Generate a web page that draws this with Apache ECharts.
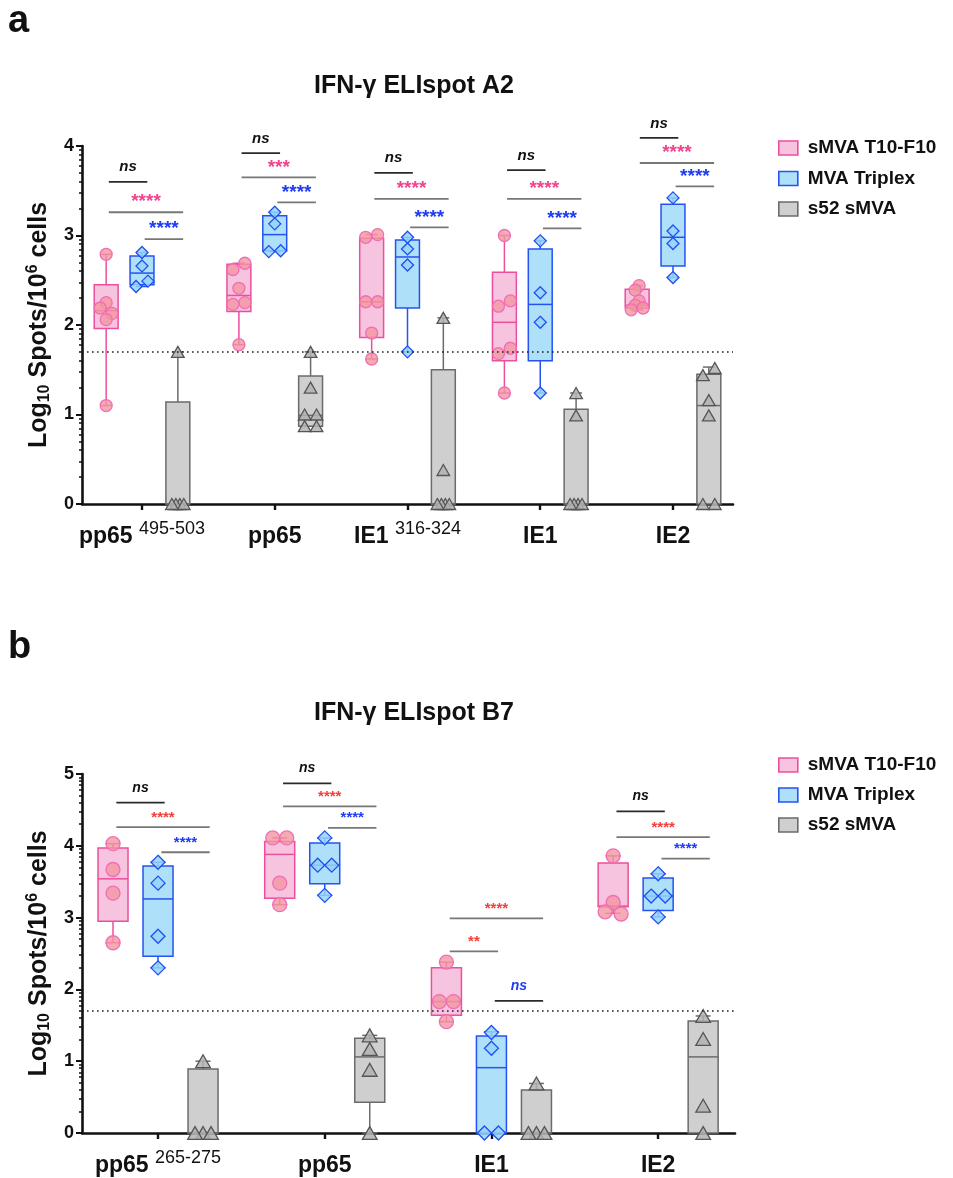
<!DOCTYPE html>
<html><head><meta charset="utf-8">
<script src="https://cdn.jsdelivr.net/npm/echarts@6/dist/echarts.min.js"></script>
<style>html,body{margin:0;padding:0;background:#fff}#c{width:953px;height:1178px}</style>
</head><body><div id="c"></div>
<script>
const FONT = '"Liberation Sans", Arial, Helvetica, sans-serif';
const groupNames = ['sMVA T10-F10', 'MVA Triplex', 's52 sMVA'];
const THRESHOLD = 1.7;

// ---------- Panel a ----------
const titleA = 'IFN-γ ELIspot A2';
const catsA = ['pp65', 'pp65', 'IE1', 'IE1', 'IE2'];
const supA = ['495-503', '', '316-324', '', ''];
const yTicksA = [0, 1, 2, 3, 4];
// box stats: [min, Q1, median, Q3, max]
const boxA_pink = [[1.10, 1.96, 2.16, 2.45, 2.79], [1.78, 2.15, 2.33, 2.68, 2.69], [1.62, 1.86, 2.26, 2.97, 3.01], [1.24, 1.60, 2.03, 2.59, 3.00], [2.17, 2.19, 2.22, 2.40, 2.44]];
const boxA_blue = [[2.43, 2.45, 2.58, 2.77, 2.81], [2.82, 2.83, 3.01, 3.22, 3.26], [1.70, 2.19, 2.76, 2.95, 2.98], [1.24, 1.60, 2.23, 2.85, 2.94], [2.53, 2.66, 2.98, 3.35, 3.42]];
const boxA_gray = [[0, 0, 0, 1.14, 1.70], [0.87, 0.87, 0.99, 1.43, 1.70], [0, 0, 0, 1.50, 2.08], [0, 0, 0, 1.06, 1.24], [0, 0, 1.10, 1.45, 1.53]];
const ptsA_pink = [[2.79, 2.25, 2.19, 2.13, 2.06, 1.10], [2.69, 2.62, 2.41, 2.25, 2.23, 1.78], [3.01, 2.98, 2.26, 2.26, 1.91, 1.62], [3.00, 2.27, 2.21, 1.74, 1.68, 1.24], [2.44, 2.39, 2.27, 2.22, 2.19, 2.17]];
const ptsA_blue = [[2.81, 2.66, 2.49, 2.43], [3.26, 3.13, 2.83, 2.82], [2.98, 2.85, 2.67, 1.70], [2.94, 2.36, 2.03, 1.24], [3.42, 3.05, 2.91, 2.53]];
const ptsA_gray = [[1.70, 0, 0, 0, 0], [1.70, 1.30, 1.00, 1.00, 0.87, 0.87], [2.08, 0.38, 0, 0, 0, 0], [1.24, 0.99, 0, 0, 0, 0], [1.52, 1.44, 1.16, 0.99, 0, 0]];
// significance: [category, fromGroup, toGroup, lineValue, label, colorKey]
const annA = [
  [0, 0, 1, 3.60, 'ns', 'k'], [0, 0, 2, 3.26, '****', 'p'], [0, 1, 2, 2.96, '****', 'b'],
  [1, 0, 1, 3.92, 'ns', 'k'], [1, 0, 2, 3.65, '***', 'p'], [1, 1, 2, 3.37, '****', 'b'],
  [2, 0, 1, 3.70, 'ns', 'k'], [2, 0, 2, 3.41, '****', 'p'], [2, 1, 2, 3.09, '****', 'b'],
  [3, 0, 1, 3.73, 'ns', 'k'], [3, 0, 2, 3.41, '****', 'p'], [3, 1, 2, 3.08, '****', 'b'],
  [4, 0, 1, 4.09, 'ns', 'k'], [4, 0, 2, 3.81, '****', 'p'], [4, 1, 2, 3.55, '****', 'b']
];

// ---------- Panel b ----------
const titleB = 'IFN-γ ELIspot B7';
const catsB = ['pp65', 'pp65', 'IE1', 'IE2'];
const supB = ['265-275', '', '', ''];
const yTicksB = [0, 1, 2, 3, 4, 5];
const boxB_pink = [[2.65, 2.95, 3.54, 3.97, 4.03], [3.18, 3.27, 3.88, 4.06, 4.11], [1.55, 1.64, 1.83, 2.30, 2.38], [3.06, 3.15, 3.16, 3.76, 3.86]];
const boxB_blue = [[2.30, 2.46, 3.26, 3.72, 3.77], [3.31, 3.47, 3.73, 4.04, 4.11], [0, 0, 0.91, 1.35, 1.41], [3.01, 3.10, 3.30, 3.55, 3.61]];
const boxB_gray = [[0, 0, 0, 0.89, 1.00], [0, 0.43, 1.06, 1.32, 1.36], [0, 0, 0, 0.60, 0.69], [0, 0, 1.06, 1.56, 1.63]];
const ptsB_pink = [[4.03, 3.67, 3.34, 2.65], [4.11, 4.11, 3.48, 3.18], [2.38, 1.83, 1.83, 1.55], [3.86, 3.21, 3.08, 3.05]];
const ptsB_blue = [[3.77, 3.48, 2.74, 2.30], [4.11, 3.73, 3.73, 3.31], [1.40, 1.18, 0, 0], [3.61, 3.30, 3.30, 3.01]];
const ptsB_gray = [[1.00, 0, 0, 0], [1.36, 1.17, 0.88, 0], [0.69, 0, 0, 0], [1.63, 1.31, 0.38, 0]];
const annB = [
  [0, 0, 1, 4.60, 'ns', 'k'], [0, 0, 2, 4.26, '****', 'r'], [0, 1, 2, 3.91, '****', 'b'],
  [1, 0, 1, 4.87, 'ns', 'k'], [1, 0, 2, 4.55, '****', 'r'], [1, 1, 2, 4.25, '****', 'b'],
  [2, 0, 2, 2.99, '****', 'r'], [2, 0, 1, 2.53, '**', 'r'], [2, 1, 2, 1.84, 'ns', 'bi'],
  [3, 0, 1, 4.48, 'ns', 'k'], [3, 0, 2, 4.12, '****', 'r'], [3, 1, 2, 3.82, '****', 'b']
];

// ---------- styles ----------
const OFF = [-0.27, 0, 0.27];
const BOX_HALF = 0.09;
const STY = [
  { boxFill: '#f7c4df', stroke: '#ec4f9d', ptFill: 'rgba(241,150,160,0.8)', ptStroke: 'rgba(240,105,180,0.95)', sym: 'circle' },
  { boxFill: '#aee0fa', stroke: '#2453f2', ptFill: 'rgba(150,212,248,0.85)', ptStroke: '#1f4ff2', sym: 'diamond' },
  { boxFill: '#cfcfcf', stroke: '#6b6b6b', ptFill: 'rgba(178,178,178,0.85)', ptStroke: '#555555', sym: 'triangle' }
];
const ANN_COL = { k: '#111111', p: '#f0458e', b: '#1f3cf5', r: '#f2403c', bi: '#1f3cf5' };

function swarm(values, Yf, size, boxW) {
  const items = values.map(v => ({ v: v, y: Yf(v) })).sort((a, b) => a.y - b.y);
  const thr = size * 0.9;
  const clusters = [];
  let cur = [];
  items.forEach(it => {
    if (cur.length && it.y - cur[cur.length - 1].y >= thr) { clusters.push(cur); cur = []; }
    cur.push(it);
  });
  if (cur.length) clusters.push(cur);
  const order = [0, -1, 1, -2, 2, -3, 3, -4, 4];
  clusters.forEach(cl => {
    const placed = [];
    cl.forEach(it => {
      for (const s of order) {
        if (!placed.some(p => p.slot === s && Math.abs(p.y - it.y) < thr)) { it.slot = s; break; }
      }
      placed.push(it);
    });
    const slots = cl.map(it => it.slot);
    const mn = Math.min.apply(null, slots), mx = Math.max.apply(null, slots);
    const mid = (mn + mx) / 2, k = mx - mn;
    const step = k > 0 ? Math.min(size, (boxW - size) / k) : 0;
    cl.forEach(it => { it.dx = (it.slot - mid) * step; });
  });
  return items;
}

function symbolShape(sym, x, y, size, st) {
  const r = size / 2;
  const style = { fill: st.ptFill, stroke: st.ptStroke, lineWidth: 1.3 };
  if (sym === 'circle') return { type: 'circle', shape: { cx: x, cy: y, r: r }, style: style };
  if (sym === 'diamond') return { type: 'polygon', shape: { points: [[x, y - r], [x + r, y], [x, y + r], [x - r, y]] }, style: style };
  const h = size * 0.92;
  return { type: 'polygon', shape: { points: [[x, y - h / 2], [x + r * 1.05, y + h / 2], [x - r * 1.05, y + h / 2]] }, style: style };
}

function groupRender(stats, pts, gi, size) {
  const st = STY[gi];
  return function (params, api) {
    const i = params.dataIndex;
    const xc = api.value(0);
    const s = stats[i];
    const cx = api.coord([xc, 0])[0];
    const xl = api.coord([xc - BOX_HALF, 0])[0];
    const xr = api.coord([xc + BOX_HALF, 0])[0];
    const Y = v => api.coord([xc, v])[1];
    const bw = xr - xl, cap = bw / 4;
    const ln = (x1, y1, x2, y2) => ({ type: 'line', shape: { x1: x1, y1: y1, x2: x2, y2: y2 }, style: { stroke: st.stroke, lineWidth: 1.5 } });
    const yMin = Y(s[0]), yQ1 = Y(s[1]), yMed = Y(s[2]), yQ3 = Y(s[3]), yMax = Y(s[4]);
    const ch = [];
    ch.push({ type: 'rect', shape: { x: xl, y: yQ3, width: bw, height: Math.max(yQ1 - yQ3, 0.5) }, style: { fill: st.boxFill, stroke: st.stroke, lineWidth: 1.5 } });
    if (yMax < yQ3 - 0.5) { ch.push(ln(cx, yQ3, cx, yMax)); }
    ch.push(ln(cx - cap, yMax, cx + cap, yMax));
    if (yMin > yQ1 + 0.5) { ch.push(ln(cx, yQ1, cx, yMin)); ch.push(ln(cx - cap, yMin, cx + cap, yMin)); }
    ch.push(ln(xl, yMed, xr, yMed));
    swarm(pts[i], Y, size, bw).forEach(it => ch.push(symbolShape(st.sym, cx + it.dx, it.y, size, st)));
    return { type: 'group', children: ch };
  };
}

function annRender(ann, fs) {
  return function (params, api) {
    const a = ann[params.dataIndex];
    const p1 = api.coord([api.value(0) + 0.02, api.value(2)]);
    const p2 = api.coord([api.value(1) + 0.04, api.value(2)]);
    const isNs = a[4] === 'ns';
    const col = ANN_COL[a[5]];
    const lineCol = isNs ? '#2a2a2a' : '#777777';
    return {
      type: 'group', children: [
        { type: 'line', shape: { x1: p1[0], y1: p1[1], x2: p2[0], y2: p2[1] }, style: { stroke: lineCol, lineWidth: 1.8 } },
        { type: 'text', x: (p1[0] + p2[0]) / 2, y: p1[1] - (isNs ? fs.nsGap : fs.starGap),
          style: { text: a[4], fill: col, fontFamily: FONT, fontSize: isNs ? fs.ns : fs.star, fontWeight: 'bold', fontStyle: isNs ? 'italic' : 'normal', align: 'center', verticalAlign: 'middle' } }
      ]
    };
  };
}

function minorLog(n) {
  const out = [];
  for (let k = 0; k < n; k++) for (let m = 2; m <= 9; m++) out.push(k + Math.log10(m));
  return out;
}

const yName = '{m|Log}{sub|10}{m| Spots/10}{sup|6}{m| cells}';
const yNameStyle = {
  color: '#111', fontFamily: FONT,
  rich: {
    m: { fontSize: 25, fontWeight: 'bold', fontFamily: FONT, color: '#111', lineHeight: 28, verticalAlign: 'middle' },
    sub: { fontSize: 16, fontWeight: 'bold', fontFamily: FONT, color: '#111', lineHeight: 16, verticalAlign: 'bottom' },
    sup: { fontSize: 16, fontWeight: 'bold', fontFamily: FONT, color: '#111', lineHeight: 16, verticalAlign: 'top' }
  }
};
const xRich = {
  m: { fontSize: 23, fontWeight: 'bold', fontFamily: FONT, color: '#111', lineHeight: 34, verticalAlign: 'middle' },
  s: { fontSize: 18, fontWeight: 'normal', fontFamily: FONT, color: '#111', lineHeight: 18, verticalAlign: 'top' }
};
const labelFmt = (cats, sups) => v => {
  const i = Math.round(v);
  return sups[i] ? '{m|' + cats[i] + ' }{s|' + sups[i] + '}' : '{m|' + cats[i] + '}';
};
const idx = arr => arr.map((_, i) => i);

function xAxisDef(grid, cats, sups, min, max) {
  return {
    gridIndex: grid, type: 'value', min: min, max: max, position: 'bottom',
    splitLine: { show: false },
    axisLine: { show: true, onZero: false, lineStyle: { color: '#111', width: 2.6 } },
    axisTick: { show: true, customValues: idx(cats), length: 6, lineStyle: { color: '#111', width: 2.4 } },
    axisLabel: { show: true, customValues: idx(cats), formatter: labelFmt(cats, sups), margin: 16, rich: xRich }
  };
}
function yAxisDef(grid, ticks) {
  const max = ticks[ticks.length - 1];
  return {
    gridIndex: grid, type: 'value', min: 0, max: max, interval: 1, position: 'left', offset: 0,
    splitLine: { show: false },
    axisLine: { show: true, onZero: false, lineStyle: { color: '#111', width: 2.6 } },
    axisTick: { show: true, length: 6, lineStyle: { color: '#111', width: 2 } },
    axisLabel: { show: true, customValues: ticks, margin: 8, fontSize: 18, fontWeight: 'bold', color: '#111', fontFamily: FONT },
    name: yName, nameLocation: 'middle', nameRotate: 90, nameGap: 26, nameTextStyle: yNameStyle
  };
}
function yMinorDef(grid, ticks) {
  const max = ticks[ticks.length - 1];
  return {
    gridIndex: grid, type: 'value', min: 0, max: max, interval: 1, position: 'left', offset: 0,
    splitLine: { show: false }, axisLine: { show: false, onZero: false }, axisLabel: { show: false },
    axisTick: { show: true, customValues: minorLog(max), length: 3, lineStyle: { color: '#111', width: 1.5 } }
  };
}

const legendData = groupNames.map((n, gi) => ({ name: n, itemStyle: { color: STY[gi].boxFill, borderColor: STY[gi].stroke, borderWidth: 1.6 } }));
const legendBase = {
  orient: 'vertical', icon: 'rect', itemWidth: 19, itemHeight: 14, selectedMode: false, padding: 0,
  textStyle: { fontSize: 19, fontWeight: 'bold', color: '#111', fontFamily: FONT, lineHeight: 22, padding: [0, 0, 0, 5] },
  data: legendData
};

function panelSeries(cats, boxes, pts, ann, xi, yi, size, fs) {
  const out = [];
  boxes.forEach((stats, gi) => {
    const s = {
      type: 'custom', name: groupNames[gi], xAxisIndex: xi, yAxisIndex: yi,
      itemStyle: { color: STY[gi].boxFill, borderColor: STY[gi].stroke },
      renderItem: groupRender(stats, pts[gi], gi, size),
      encode: { x: 0, y: [1, 2, 3, 4, 5] },
      data: stats.map((b, i) => [i + OFF[gi]].concat(b)),
      clip: false, z: 2
    };
    if (gi === 2) {
      s.markLine = { silent: true, symbol: ['none', 'none'], label: { show: false }, z: 5,
        lineStyle: { type: [1.6, 3.4], color: '#222', width: 1.6 }, data: [{ yAxis: THRESHOLD }] };
    }
    out.push(s);
  });
  out.push({
    type: 'custom', name: 'sig', xAxisIndex: xi, yAxisIndex: yi, clip: false, z: 3, silent: true,
    renderItem: annRender(ann, fs),
    encode: { x: [0, 1], y: 2 },
    data: ann.map(a => [a[0] + OFF[a[1]], a[0] + OFF[a[2]], a[3]])
  });
  return out;
}

const chart = echarts.init(document.getElementById('c'), null, { renderer: 'canvas' });
chart.setOption({
  animation: false,
  backgroundColor: '#fff',
  textStyle: { fontFamily: FONT },
  title: [
    { text: 'a', left: 8, top: 3, padding: 0, textStyle: { fontSize: 38, fontWeight: 'bold', color: '#111', fontFamily: FONT } },
    { text: titleA, left: 409, top: 69, textAlign: 'center', textStyle: { fontSize: 25, fontWeight: 'bold', color: '#111', fontFamily: FONT } },
    { text: 'b', left: 8, top: 629, padding: 0, textStyle: { fontSize: 38, fontWeight: 'bold', color: '#111', fontFamily: FONT } },
    { text: titleB, left: 409, top: 696, textAlign: 'center', textStyle: { fontSize: 25, fontWeight: 'bold', color: '#111', fontFamily: FONT } }
  ],
  legend: [
    Object.assign({}, legendBase, { left: 778, top: 137, itemGap: 8.5 }),
    Object.assign({}, legendBase, { left: 778, top: 754, itemGap: 8 })
  ],
  grid: [
    { left: 82, top: 146, width: 651, height: 358, containLabel: false, outerBoundsMode: 'none' },
    { left: 82, top: 774, width: 653, height: 359, containLabel: false, outerBoundsMode: 'none' }
  ],
  xAxis: [
    xAxisDef(0, catsA, supA, -0.452, 4.452),
    xAxisDef(1, catsB, supB, -0.456, 3.461)
  ],
  yAxis: [
    yAxisDef(0, yTicksA), yMinorDef(0, yTicksA),
    yAxisDef(1, yTicksB), yMinorDef(1, yTicksB)
  ],
  series: [].concat(
    panelSeries(catsA, [boxA_pink, boxA_blue, boxA_gray], [ptsA_pink, ptsA_blue, ptsA_gray], annA, 0, 0, 12,
      { ns: 15, star: 19, nsGap: 14.5, starGap: 10 }),
    panelSeries(catsB, [boxB_pink, boxB_blue, boxB_gray], [ptsB_pink, ptsB_blue, ptsB_gray], annB, 1, 2, 14,
      { ns: 14, star: 15, nsGap: 15, starGap: 9.5 })
  )
});
</script></body></html>
